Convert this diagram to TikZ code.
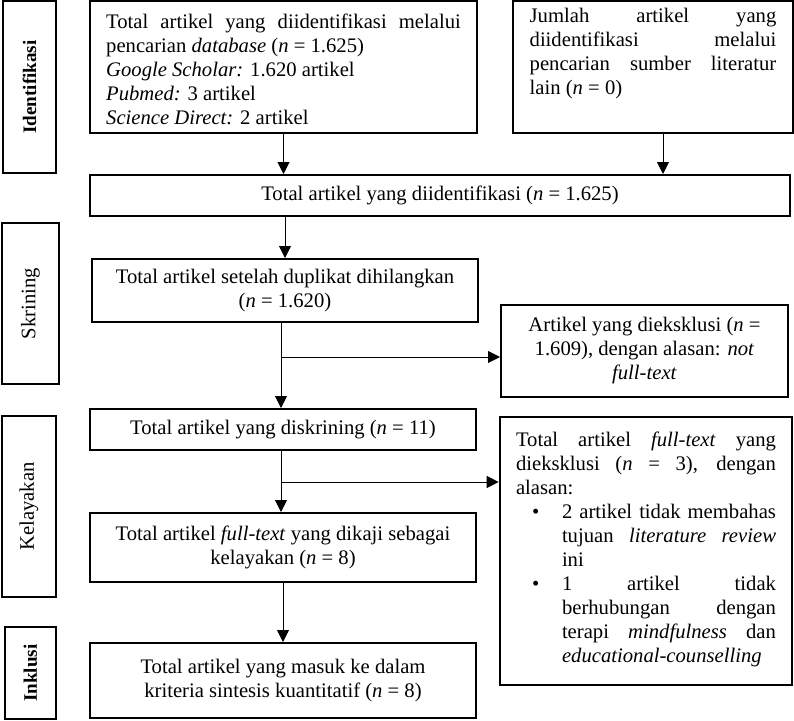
\documentclass[tikz,border=0pt]{standalone}
\usepackage{fontspec}
\setmainfont{Liberation Serif}
\usetikzlibrary{arrows.meta}
\begin{document}
\begin{tikzpicture}[x=0.75pt,y=-0.75pt,
  every node/.style={font=\fontsize{15.5}{18}\selectfont},
  box/.style={draw, line width=1.5pt, inner sep=0pt},
  lbl/.style={draw, line width=1.5pt, inner sep=0pt, rotate=90},
  boldlbl/.style={lbl, font=\fontsize{14.3}{17}\selectfont\bfseries},
  arr/.style={-{Triangle[width=9pt,length=9pt]}, line width=0.75pt}]
\useasboundingbox (0,0) rectangle (794,721);

% stage labels
\node[boldlbl, minimum width={172*0.75pt}, minimum height={53*0.75pt}] (L1) at (29.5,87) {Identifikasi};
\node[lbl, minimum width={161*0.75pt}, minimum height={57*0.75pt}] (L2) at (30.5,303.5) {Skrining};
\node[lbl, minimum width={181*0.75pt}, minimum height={54*0.75pt}] (L3) at (29,506.5) {Kelayakan};
\node[boldlbl, minimum width={92*0.75pt}, minimum height={51*0.75pt}] (L4) at (30.5,673) {Inklusi};

% boxes
\node[box, minimum width={387*0.75pt}, minimum height={132*0.75pt}] (A) at (283.5,67)
  {\parbox[c][80pt][t]{266pt}{Total artikel yang diidentifikasi melalui\linebreak pencarian \textit{database} (\textit{n} = 1.625)\\
  \textit{Google Scholar:} 1.620 artikel\\
  \textit{Pubmed:} 3 artikel\\
  \textit{Science Direct:} 2 artikel}};
\node[box, minimum width={280*0.75pt}, minimum height={132*0.75pt}] (B) at (653,67)
  {\parbox[c][88pt][t]{185pt}{Jumlah artikel yang\linebreak diidentifikasi melalui\linebreak pencarian sumber literatur\linebreak lain (\textit{n} = 0)}};
\node[box, minimum width={700*0.75pt}, minimum height={41*0.75pt}] (C) at (440,195.5)
  {Total artikel yang diidentifikasi (\textit{n} = 1.625)};
\node[box, minimum width={386*0.75pt}, minimum height={63*0.75pt}, align=center] (D) at (285,290.5)
  {Total artikel setelah duplikat dihilangkan\\(\textit{n} = 1.620)};
\node[box, minimum width={287*0.75pt}, minimum height={92*0.75pt}, align=center] (F) at (644.5,351)
  {Artikel yang dieksklusi (\textit{n} =\\1.609), dengan alasan: \textit{not}\\\textit{full-text}};
\node[box, minimum width={386*0.75pt}, minimum height={41*0.75pt}] (E) at (283,429.5)
  {Total artikel yang diskrining (\textit{n} = 11)};
\node[box, line width=2pt, minimum width={292*0.75pt}, minimum height={268*0.75pt}] (G) at (646,551)
  {\parbox[c][178pt][t]{195pt}{Total artikel \textit{full-text} yang\linebreak dieksklusi (\textit{n} = 3), dengan\linebreak alasan:
  \begin{list}{\textbullet}{\setlength\leftmargin{34.5pt}\setlength\labelsep{17pt}\setlength\labelwidth{17.5pt}\setlength\itemsep{0pt}\setlength\topsep{0pt}\setlength\parsep{0pt}\setlength\partopsep{0pt}}
  \item 2 artikel tidak membahas\linebreak tujuan \textit{literature review}\linebreak ini
  \item 1 artikel tidak\linebreak berhubungan dengan\linebreak terapi \textit{mindfulness} dan\linebreak \textit{educational-counselling}
  \end{list}}};
\node[box, minimum width={386*0.75pt}, minimum height={69*0.75pt}, align=center] (H) at (283,547.5)
  {Total artikel \textit{full-text} yang dikaji sebagai\\kelayakan (\textit{n} = 8)};
\node[box, minimum width={386*0.75pt}, minimum height={75*0.75pt}, align=center] (I) at (283,680.5)
  {Total artikel yang masuk ke dalam\\kriteria sintesis kuantitatif (\textit{n} = 8)};

% connectors
\coordinate (j1) at (281,357);
\coordinate (j2) at (281,482);
\draw[arr] (A.south) -- (A.south |- C.north);
\draw[arr] ([xshift=7.5pt]B.south) -- ([xshift=7.5pt]B.south |- C.north);
\draw[arr] (C.south -| D.north) -- (D.north);
\draw[arr] (D.south -| j1) -- (E.north -| j1);
\draw[arr] (j1) -- (j1 -| F.west);
\draw[arr] (E.south -| j2) -- (H.north -| j2);
\draw[arr] (j2) -- (j2 -| G.west);
\draw[arr] (H.south) -- (I.north);
\end{tikzpicture}
\end{document}
